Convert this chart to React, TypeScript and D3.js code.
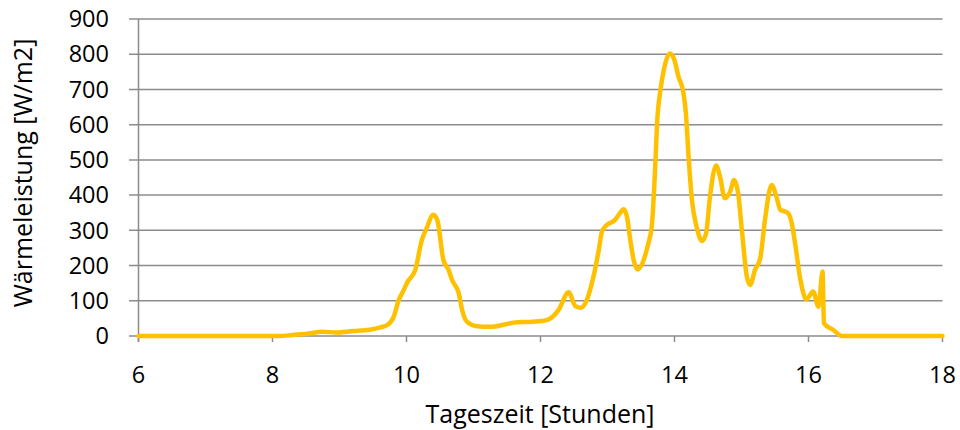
import React from "react";
import * as d3 from "d3";

const hours = [
  6.0, 8.1, 8.3, 8.5, 8.75, 8.95, 9.2, 9.45, 9.6, 9.72, 9.81, 9.88, 9.96, 10.02, 10.13, 10.23, 10.3, 10.4, 10.46,
  10.55, 10.63, 10.68, 10.78, 10.83, 10.9, 11.05, 11.25, 11.45, 11.6, 11.8, 12.05, 12.15, 12.27, 12.42, 12.52,
  12.6, 12.69, 12.79, 12.87, 12.92, 12.99, 13.11, 13.19, 13.24, 13.29, 13.34, 13.39, 13.45, 13.54, 13.61, 13.66,
  13.71, 13.74, 13.79, 13.84, 13.93, 13.99, 14.06, 14.13, 14.17, 14.21, 14.26, 14.33, 14.41, 14.47, 14.53, 14.62,
  14.68, 14.75, 14.83, 14.89, 14.95, 15.01, 15.08, 15.13, 15.2, 15.28, 15.35, 15.45, 15.52, 15.58, 15.69, 15.75,
  15.8, 15.88, 15.97, 16.07, 16.15, 16.21, 16.23, 16.37, 16.5, 18.0,
];
const power = [
  0, 0, 3, 6, 12, 10, 14, 18, 24, 32, 55, 100, 131, 155, 187, 273, 306, 344, 329,
  216, 187, 159, 121, 74, 41, 28, 26, 32, 38, 40, 43, 50, 74, 124, 85,
  80, 102, 168, 244, 298, 315, 329, 350, 360, 339, 273, 216, 189, 216, 263, 310,
  471, 604, 698, 755, 802, 788, 736, 694, 632, 509, 386, 310, 270, 290, 396, 484,
  452, 391, 410, 443, 405, 292, 168, 145, 187, 221, 329, 429, 396, 358, 350, 320,
  263, 159, 104, 126, 83, 183, 36, 17, 0, 0,
];
const xTicks = [6, 8, 10, 12, 14, 16, 18];
const yTicks = [0, 100, 200, 300, 400, 500, 600, 700, 800, 900];
const xTitle = "Tageszeit [Stunden]";
const yTitle = "Wärmeleistung [W/m2]";

export default function App() {
  const W = 960, H = 430;
  const x = d3.scaleLinear().domain([6, 18]).range([138.5, 942.5]);
  const y = d3.scaleLinear().domain([0, 900]).range([336, 19]);
  const pts = hours.map((h, i) => [h, power[i]] as [number, number]);
  const line = d3
    .line<[number, number]>()
    .x((d) => x(d[0]))
    .y((d) => y(d[1]))
    .curve(d3.curveMonotoneX);
  const font = "'Open Sans', sans-serif";
  const grid = "#8c8c8c";
  return (
    <div style={{ position: "absolute", left: 0, top: 0 }}>
      <svg width={W} height={H} style={{ display: "block", background: "#fff" }}>
        {yTicks.map((t) => (
          <g key={"y" + t}>
            <line x1={129} x2={x(18)} y1={y(t)} y2={y(t)} stroke={grid} strokeWidth={1.5} />
            <text
              x={109}
              y={y(t)}
              dy="0.35em"
              textAnchor="end"
              fontFamily={font}
              fontSize={23.5}
              fill="#000"
            >
              {t}
            </text>
          </g>
        ))}
        <line x1={x(6)} x2={x(6)} y1={y(900)} y2={342} stroke={grid} strokeWidth={1.5} />
        {xTicks.map((t) => (
          <g key={"x" + t}>
            <line x1={x(t)} x2={x(t)} y1={y(0)} y2={342} stroke={grid} strokeWidth={1.5} />
            <text x={x(t)} y={383} textAnchor="middle" fontFamily={font} fontSize={23.5} fill="#000">
              {t}
            </text>
          </g>
        ))}
        <path d={line(pts) || ""} fill="none" stroke="#FFC000" strokeWidth={4.5} strokeLinejoin="round" strokeLinecap="round" />
        <text x={540} y={423} textAnchor="middle" fontFamily={font} fontSize={25} fill="#000">
          {xTitle}
        </text>
        <text
          transform={`translate(32,${173}) rotate(-90)`}
          textAnchor="middle"
          fontFamily={font}
          fontSize={25}
          fill="#000"
        >
          {yTitle}
        </text>
      </svg>
    </div>
  );
}
